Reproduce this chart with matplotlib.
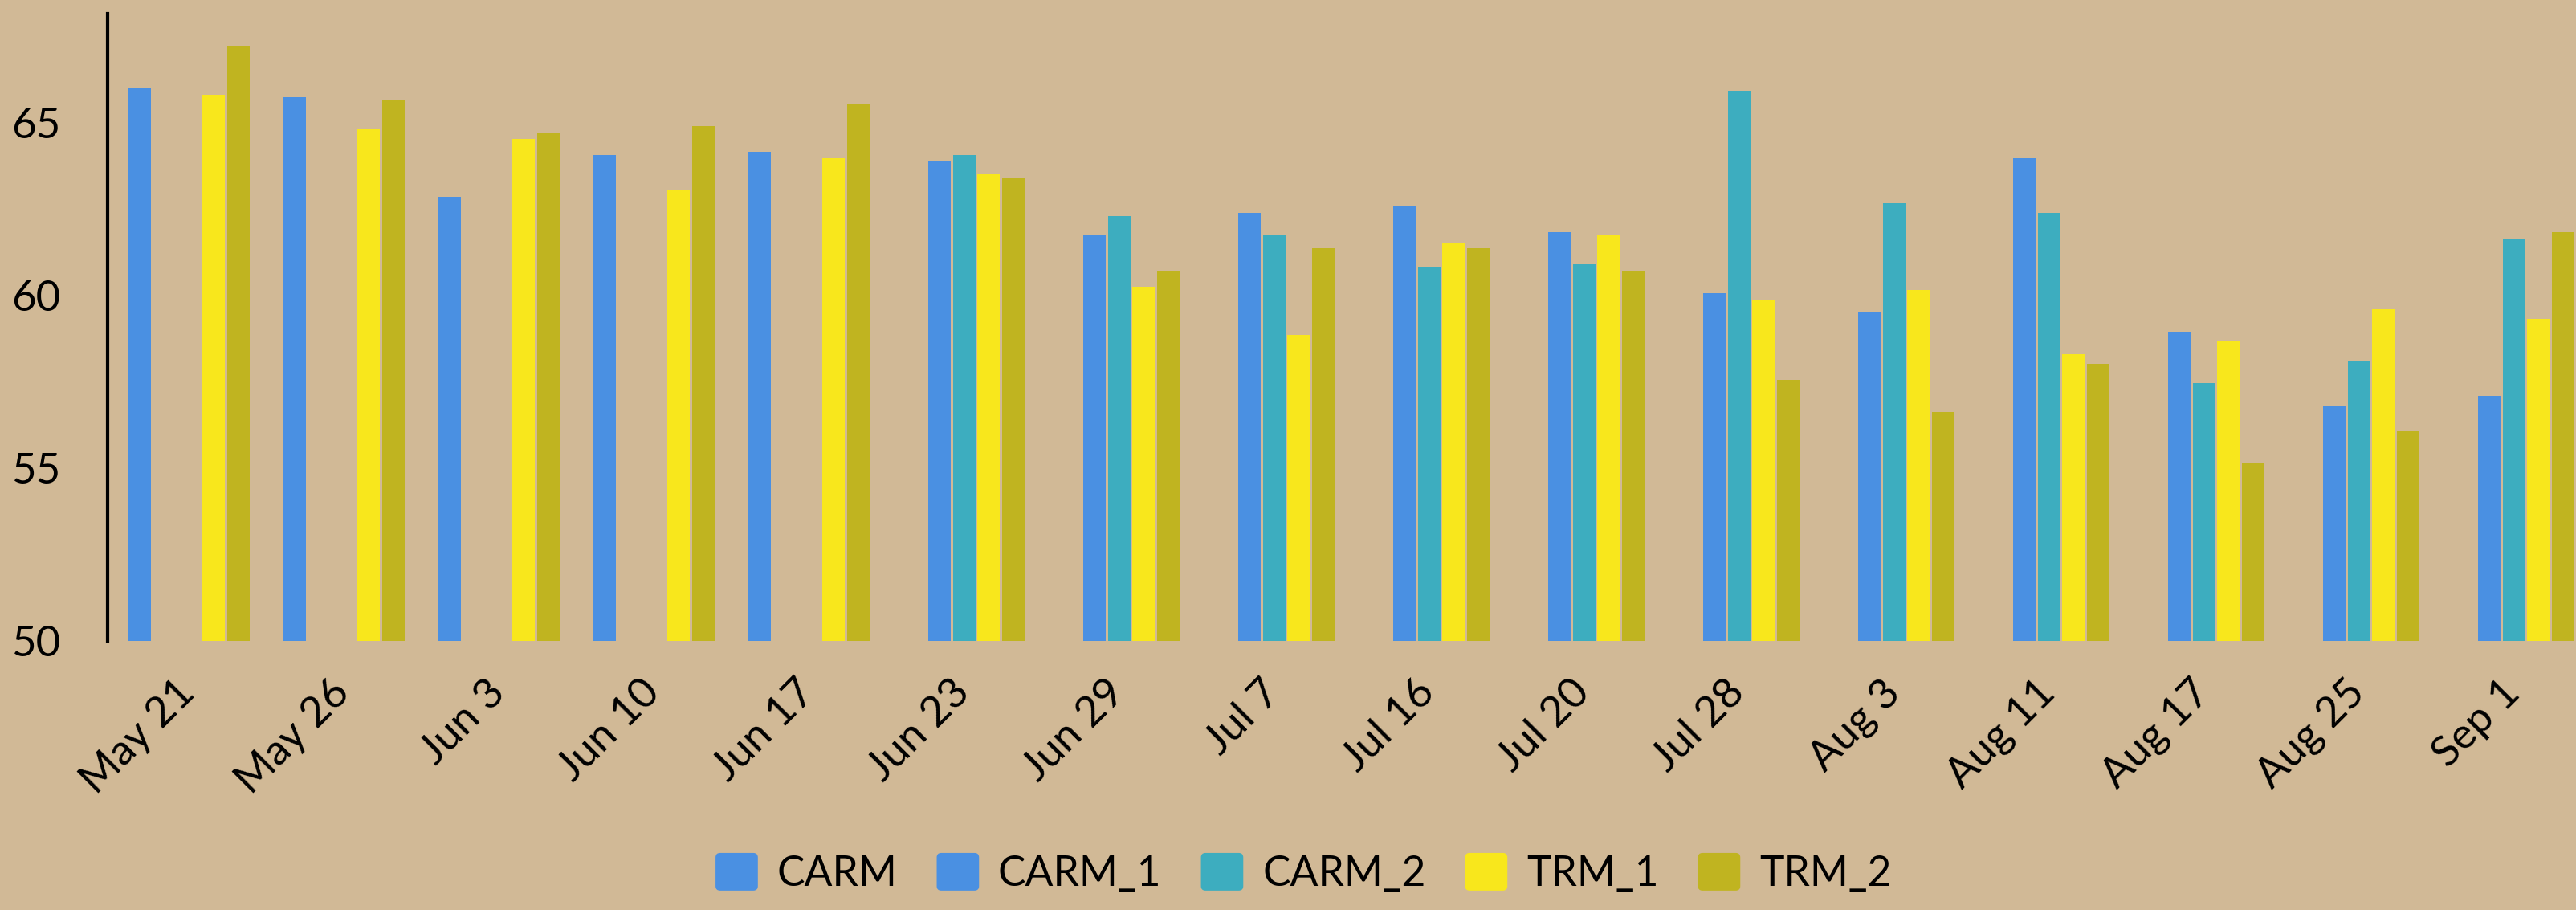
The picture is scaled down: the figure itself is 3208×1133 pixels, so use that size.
import numpy as np
import matplotlib
matplotlib.use("Agg")
import matplotlib.pyplot as plt
from matplotlib.container import BarContainer
from matplotlib.legend_handler import HandlerBase
from matplotlib.patches import FancyBboxPatch
from matplotlib.transforms import ScaledTranslation

plt.rcParams['font.family'] = ['Lato', 'DejaVu Sans']

dates = ['May 21', 'May 26', 'Jun 3', 'Jun 10', 'Jun 17', 'Jun 23', 'Jun 29', 'Jul 7',
         'Jul 16', 'Jul 20', 'Jul 28', 'Aug 3', 'Aug 11', 'Aug 17', 'Aug 25', 'Sep 1']
nan = np.nan
carm = [66.02, 65.74, 62.86, 64.06, 64.16, nan, nan, nan,
        nan, nan, nan, nan, nan, nan, nan, nan]
carm_1 = [nan, nan, nan, nan, nan, 63.88, 61.74, 62.38,
          62.58, 61.82, 60.06, 59.50, 63.96, 58.94, 56.80, 57.08]
carm_2 = [nan, nan, nan, nan, nan, 64.06, 62.30, 61.74,
          60.80, 60.90, 65.92, 62.66, 62.38, 57.46, 58.10, 61.64]
trm_1 = [65.82, 64.80, 64.52, 63.04, 63.96, 63.50, 60.24, 58.86,
         61.54, 61.74, 59.88, 60.16, 58.30, 58.66, 59.60, 59.32]
trm_2 = [67.22, 65.64, 64.71, 64.90, 65.54, 63.40, 60.72, 61.36,
         61.36, 60.72, 57.55, 56.62, 58.02, 55.13, 56.06, 61.82]

series = [('CARM', carm, '#4A90E2'),
          ('CARM_1', carm_1, '#4A90E2'),
          ('CARM_2', carm_2, '#3DADBF'),
          ('TRM_1', trm_1, '#F8E71C'),
          ('TRM_2', trm_2, '#C0B420')]


# rounded square legend markers
class RoundBox(HandlerBase):
    def create_artists(self, legend, orig_handle, xdescent, ydescent,
                       width, height, fontsize, trans):
        col = orig_handle.patches[0].get_facecolor()
        r = 0.12 * min(width, height)
        p = FancyBboxPatch((-xdescent, -ydescent), width, height,
                           boxstyle='round,pad=0,rounding_size=%f' % r,
                           facecolor=col, edgecolor='none', transform=trans)
        return [p]


bg = '#D1B996'
fig = plt.figure(figsize=(16.04, 5.665), dpi=200, facecolor=bg)
ax = fig.add_axes([0.0417, 0.296, 0.9583, 0.6887], facecolor=bg)

x = np.arange(len(dates))
slot = 0.159
for i, (name, vals, col) in enumerate(series):
    ax.bar(x + (i - 2) * slot, np.array(vals) - 50, width=0.145, bottom=50,
           color=col, label=name)

ax.set_xlim(-0.527, len(dates) - 1 + 0.40)
ax.set_ylim(50, 68.15)
ax.set_yticks([50, 55, 60, 65])
ax.set_xticks(x)
ax.set_xticklabels(dates, rotation=45, ha='right', va='baseline', rotation_mode='anchor')
ax.tick_params(axis='y', length=0, pad=21, labelsize=19)
ax.tick_params(axis='x', length=0, pad=25, labelsize=19)
shift = ScaledTranslation(10 / 200, 2 / 200, fig.dpi_scale_trans)
for lab in ax.get_xticklabels():
    lab.set_transform(lab.get_transform() + shift)
for s in ['top', 'right', 'bottom']:
    ax.spines[s].set_visible(False)
ax.spines['left'].set_linewidth(1.5)
ax.spines['left'].set_color('black')

fig.legend(loc='center', bbox_to_anchor=(0.506, 0.0406), ncol=5, frameon=False,
           fontsize=18.6, handlelength=1.02, handleheight=1.02, handletextpad=0.46,
           columnspacing=0.95, handler_map={BarContainer: RoundBox()})

fig.savefig('out.png', dpi=200, facecolor=bg)
